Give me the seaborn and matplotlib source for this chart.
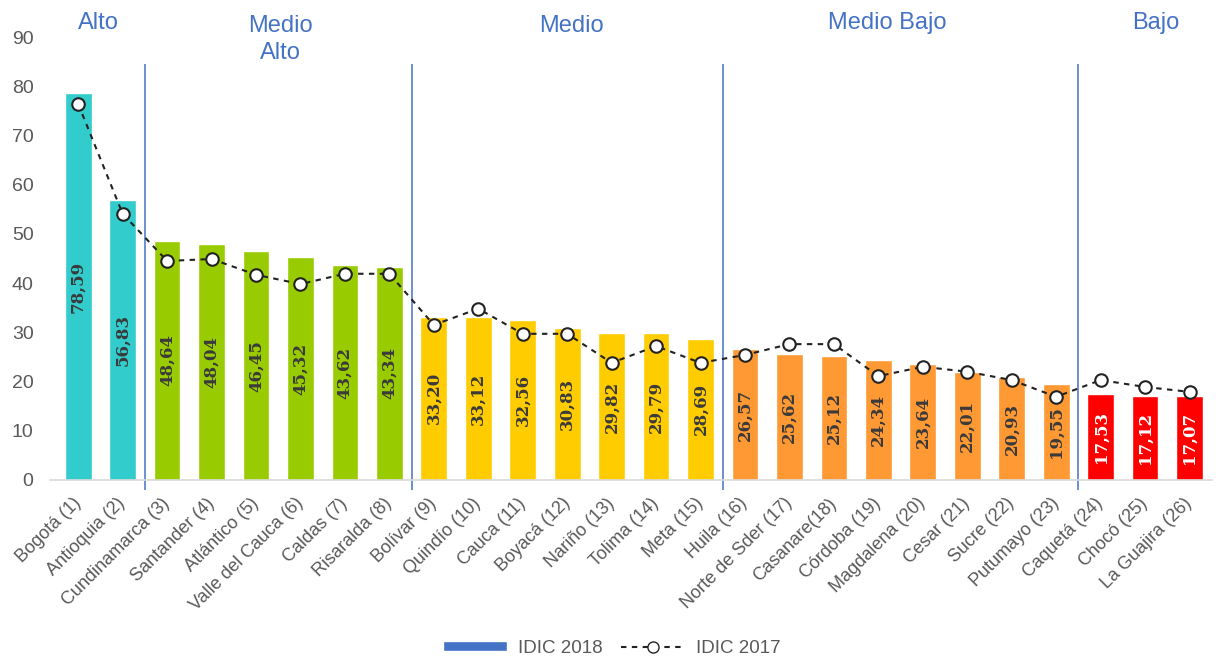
import matplotlib
matplotlib.use("Agg")
import matplotlib.pyplot as plt
from matplotlib.lines import Line2D
from matplotlib.patches import Patch
import matplotlib.transforms as mtransforms
import numpy as np
import pandas as pd
import seaborn as sns

states = [
    "Bogotá (1)", "Antioquia (2)", "Cundinamarca (3)", "Santander (4)",
    "Atlántico (5)", "Valle del Cauca (6)", "Caldas (7)", "Risaralda (8)",
    "Bolívar (9)", "Quindío (10)", "Cauca (11)", "Boyacá (12)",
    "Nariño (13)", "Tolima (14)", "Meta (15)", "Huila (16)",
    "Norte de Sder (17)", "Casanare(18)", "Córdoba (19)", "Magdalena (20)",
    "Cesar (21)", "Sucre (22)", "Putumayo (23)", "Caquetá (24)",
    "Chocó (25)", "La Guajira (26)",
]
idic_2018 = [
    78.59, 56.83, 48.64, 48.04, 46.45, 45.32, 43.62, 43.34,
    33.20, 33.12, 32.56, 30.83, 29.82, 29.79, 28.69,
    26.57, 25.62, 25.12, 24.34, 23.64, 22.01, 20.93, 19.55,
    17.53, 17.12, 17.07,
]
idic_2017 = [
    76.4, 54.1, 44.5, 44.9, 41.7, 39.8, 41.9, 41.9,
    31.5, 34.8, 29.7, 29.7, 23.8, 27.2, 23.8,
    25.4, 27.6, 27.6, 21.1, 23.0, 22.0, 20.3, 16.9,
    20.3, 18.9, 17.9,
]
groups = ["Alto", "Medio\nAlto", "Medio", "Medio Bajo", "Bajo"]
group_sizes = [2, 6, 7, 8, 3]
group_colors = ["#33CCCC", "#99CC00", "#FFCC00", "#FF9933", "#FF0000"]

group_of = np.repeat(np.arange(len(groups)), group_sizes)
bar_colors = [group_colors[g] for g in group_of]

df = pd.DataFrame({"estado": states, "idic2018": idic_2018, "idic2017": idic_2017})

sns.set_style("white")
plt.rcParams["font.family"] = ["Liberation Sans", "DejaVu Sans"]

fig = plt.figure(figsize=(12.24, 6.62), dpi=100)
ax = fig.add_axes([0.041, 0.275, 0.949, 0.669])

sns.barplot(data=df, x="estado", y="idic2018", hue="estado", palette=bar_colors,
            order=states, width=0.6, legend=False, saturation=1, ax=ax)

for i, container in enumerate(ax.containers):
    g = group_of[i]
    ax.bar_label(container, labels=[f"{idic_2018[i]:.2f}".replace(".", ",")],
                 label_type="center", rotation=90, fontsize=12, fontweight="bold",
                 family="DejaVu Serif",
                 color="white" if g == 4 else "#3a3a3a")

sns.pointplot(data=df, x="estado", y="idic2017", order=states, color="#222222",
              linestyle=(0, (2.6, 2.6)), linewidth=1.5, marker="o", markersize=9,
              markerfacecolor="white", markeredgecolor="#222222",
              markeredgewidth=1.5, ax=ax)

# separators between groups
bounds = np.cumsum(group_sizes)[:-1] - 0.5
ax.vlines(bounds, -2, 84.5, color="#4472C4", linewidth=1.1, clip_on=False, zorder=1)

# group titles
trans = mtransforms.blended_transform_factory(ax.transData, fig.transFigure)
title_x = [0.45, 4.54, 11.1, 18.2, 24.25]
title_y = [0.965, 0.940, 0.960, 0.965, 0.965]
for name, tx, ty in zip(groups, title_x, title_y):
    ax.text(tx, ty, name, transform=trans, ha="center", va="center",
            fontsize=17, color="#4472C4", linespacing=1.3)

ax.set_ylim(0, 90)
ax.set_xlim(-0.63, 25.5)
ax.set_yticks(range(0, 91, 10))
ax.set_xlabel("")
ax.set_ylabel("")
ax.tick_params(axis="both", length=0, colors="#595959")
ax.tick_params(axis="y", pad=12, labelsize=14)
ax.tick_params(axis="x", pad=15)
plt.setp(ax.get_xticklabels(), rotation=45, ha="right", va="center",
         rotation_mode="anchor", fontsize=13)

for side in ["left", "right", "top"]:
    ax.spines[side].set_visible(False)
ax.spines["bottom"].set_color("#d9d9d9")
ax.spines["bottom"].set_linewidth(1.2)

handles = [
    Patch(facecolor="#4472C4", label="IDIC 2018"),
    Line2D([0], [0], color="#222222", linestyle=(0, (2.6, 2.6)), linewidth=1.5,
           marker="o", markersize=8, markerfacecolor="white",
           markeredgecolor="#222222", label="IDIC 2017"),
]
leg = fig.legend(handles=handles, loc="center", bbox_to_anchor=(0.5, 0.021), ncol=2,
                 frameon=False, fontsize=13.5, handlelength=3.4, handleheight=0.5,
                 handletextpad=0.6, columnspacing=1.0)
for t in leg.get_texts():
    t.set_color("#595959")

fig.savefig("out.png", dpi=100)
